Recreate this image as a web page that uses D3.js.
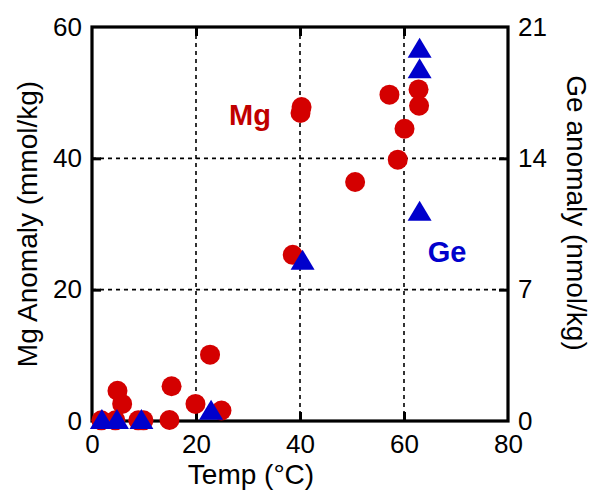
<!DOCTYPE html>
<html><head><meta charset="utf-8">
<script src="https://cdn.jsdelivr.net/npm/d3@7"></script>
<style>body{margin:0;background:#fff}svg{display:block}text{font-family:"Liberation Sans",Arial,sans-serif}</style>
</head><body>
<script>
const mgTemp = [1.8,4.5,4.9,5.8,8.9,9.9,14.9,15.3,19.9,22.7,24.9,38.6,40.3,40.1,50.6,57.2,58.8,60.1,62.8,62.9];
const mgValue = [0.1,0.1,4.6,2.6,0.1,0.1,0.15,5.3,2.6,10.1,1.6,25.3,47.8,46.9,36.4,49.7,39.8,44.5,50.5,48.0];
const geTemp = [1.9,4.8,9.5,22.9,40.5,63,63,63];
const geValue = [0.1,0.1,0.1,0.6,8.6,11.2,18.8,19.9];
const xTicks = [0,20,40,60,80];
const yLeftTicks = [0,20,40,60];
const yRightTicks = [0,7,14,21];

const W=591,H=491;
const svg=d3.select("body").append("svg").attr("width",W).attr("height",H);
const L=92,R=508,T=27,B=421;
const x=d3.scaleLinear().domain([0,80]).range([L,R]);
const yL=d3.scaleLinear().domain([0,60]).range([B,T]);
const yR=d3.scaleLinear().domain([0,21]).range([B,T]);

// grid
const g=svg.append("g");
g.selectAll("line.vg").data([20,40,60]).join("line")
 .attr("x1",d=>x(d)).attr("x2",d=>x(d)).attr("y1",T).attr("y2",B)
 .attr("stroke","#000").attr("stroke-width",1.6).attr("stroke-dasharray","4,4");
g.selectAll("line.hg").data([20,40]).join("line")
 .attr("y1",d=>yL(d)).attr("y2",d=>yL(d)).attr("x1",L).attr("x2",R)
 .attr("stroke","#000").attr("stroke-width",1.6).attr("stroke-dasharray","4,4");

// axes (inward ticks)
const fs=26;
function styleAxis(sel){
  sel.select(".domain").remove();
  sel.selectAll(".tick line").attr("stroke","#000").attr("stroke-width",3);
  sel.selectAll(".tick text").attr("font-size",fs).attr("fill","#000").attr("font-family","Liberation Sans, Arial, sans-serif");
}
const ax=svg.append("g").attr("transform",`translate(0,${B})`)
 .call(d3.axisBottom(x).tickValues(xTicks).tickSizeInner(-9).tickSizeOuter(0).tickPadding(14).tickFormat(d3.format("d")));
styleAxis(ax);
ax.selectAll(".tick").filter(d=>d===0||d===80).select("line").remove();
const axT=svg.append("g").attr("transform",`translate(0,${T})`)
 .call(d3.axisTop(x).tickValues([20,40,60]).tickSizeInner(-9).tickSizeOuter(0).tickFormat(""));
styleAxis(axT);
const ayL=svg.append("g").attr("transform",`translate(${L},0)`)
 .call(d3.axisLeft(yL).tickValues(yLeftTicks).tickSizeInner(-9).tickSizeOuter(0).tickPadding(10).tickFormat(d3.format("d")));
styleAxis(ayL);
ayL.selectAll(".tick").filter(d=>d===0||d===60).select("line").remove();
const ayR=svg.append("g").attr("transform",`translate(${R},0)`)
 .call(d3.axisRight(yR).tickValues(yRightTicks).tickSizeInner(-9).tickSizeOuter(0).tickPadding(10).tickFormat(d3.format("d")));
styleAxis(ayR);
ayR.selectAll(".tick").filter(d=>d===0||d===21).select("line").remove();

// frame
svg.append("rect").attr("x",L).attr("y",T).attr("width",R-L).attr("height",B-T)
 .attr("fill","none").attr("stroke","#000").attr("stroke-width",3.2);

// points
const mg=mgTemp.map((t,i)=>({t,v:mgValue[i]}));
const ge=geTemp.map((t,i)=>({t,v:geValue[i]}));
svg.append("g").selectAll("circle").data(mg).join("circle")
 .attr("cx",d=>x(d.t)).attr("cy",d=>yL(d.v)).attr("r",10).attr("fill","#d40000");
const tw=24,th=20;
svg.append("g").selectAll("path").data(ge).join("path")
 .attr("d",`M0,${-th/2}L${tw/2},${th/2}L${-tw/2},${th/2}Z`)
 .attr("transform",d=>`translate(${x(d.t)},${yR(d.v)})`).attr("fill","#0000cc");

// labels
svg.append("text").attr("x",250).attr("y",125).attr("text-anchor","middle")
 .attr("font-size",29).attr("font-weight","bold").attr("fill","#c00000").text("Mg");
svg.append("text").attr("x",447).attr("y",262).attr("text-anchor","middle")
 .attr("font-size",29).attr("font-weight","bold").attr("fill","#0000cc").text("Ge");

svg.append("text").attr("x",251).attr("y",484).attr("text-anchor","middle")
 .attr("font-size",28).attr("fill","#000").text("Temp (°C)");
svg.append("text").attr("transform","translate(37,224) rotate(-90)").attr("text-anchor","middle")
 .attr("font-size",28).attr("fill","#000").text("Mg Anomaly (mmol/kg)");
svg.append("text").attr("transform","translate(567,213) rotate(90)").attr("text-anchor","middle")
 .attr("font-size",28).attr("fill","#000").text("Ge anomaly (nmol/kg)");
</script>
</body></html>
